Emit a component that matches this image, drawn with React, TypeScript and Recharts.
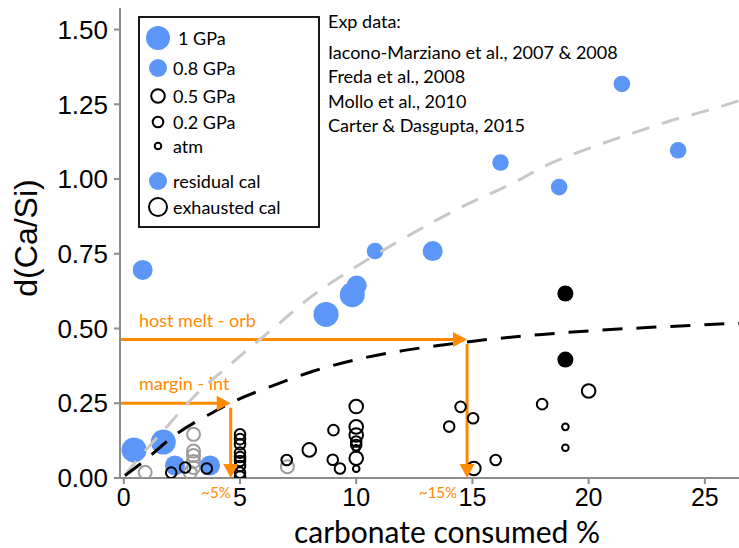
import React from 'react'
import { ReferenceDot, ReferenceLine, Scatter, ScatterChart, XAxis, YAxis } from 'recharts'

interface Pt {
  x: number
  y: number
}

const X_TICKS = [0, 5, 10, 15, 20, 25]
const Y_TICKS = [0, 0.25, 0.5, 0.75, 1, 1.25, 1.5]

// filled blue, three visible marker sizes
const blueLarge: Pt[] = [
  { x: 0.44, y: 0.094 },
  { x: 1.7, y: 0.12 },
  { x: 8.7, y: 0.547 },
  { x: 9.83, y: 0.613 }
]
const blueMid: Pt[] = [
  { x: 0.81, y: 0.696 },
  { x: 2.2, y: 0.042 },
  { x: 3.71, y: 0.042 },
  { x: 10.02, y: 0.644 },
  { x: 13.29, y: 0.759 }
]
const blueSmall: Pt[] = [
  { x: 10.81, y: 0.759 },
  { x: 16.21, y: 1.055 },
  { x: 18.73, y: 0.973 },
  { x: 21.43, y: 1.318 },
  { x: 23.85, y: 1.096 }
]

const blackFilled: Pt[] = [
  { x: 19.0, y: 0.617 },
  { x: 19.0, y: 0.396 }
]

// open circles, 0.5 GPa
const open05: Pt[] = [
  { x: 7.98, y: 0.094 },
  { x: 10.0, y: 0.239 },
  { x: 10.0, y: 0.171 },
  { x: 10.0, y: 0.144 },
  { x: 10.0, y: 0.066 },
  { x: 15.06, y: 0.032 },
  { x: 20.0, y: 0.291 }
]

// open circles, 0.2 GPa
const open02: Pt[] = [
  { x: 2.04, y: 0.018 },
  { x: 2.64, y: 0.035 },
  { x: 3.57, y: 0.032 },
  { x: 5.0, y: 0.146 },
  { x: 5.0, y: 0.13 },
  { x: 5.0, y: 0.113 },
  { x: 5.0, y: 0.085 },
  { x: 5.0, y: 0.07 },
  { x: 5.0, y: 0.057 },
  { x: 5.0, y: 0.04 },
  { x: 5.0, y: 0.018 },
  { x: 5.0, y: 0.005 },
  { x: 7.01, y: 0.06 },
  { x: 9.02, y: 0.16 },
  { x: 8.99, y: 0.061 },
  { x: 9.3, y: 0.032 },
  { x: 10.0, y: 0.122 },
  { x: 10.0, y: 0.11 },
  { x: 14.0, y: 0.172 },
  { x: 14.49, y: 0.238 },
  { x: 15.03, y: 0.2 },
  { x: 16.0, y: 0.06 },
  { x: 18.0, y: 0.247 }
]

// open circles, atm
const openAtm: Pt[] = [
  { x: 10.0, y: 0.099 },
  { x: 10.0, y: 0.031 },
  { x: 19.0, y: 0.171 },
  { x: 19.0, y: 0.101 }
]

// grey open circles
const greyOpen: Pt[] = [
  { x: 0.92, y: 0.019 },
  { x: 3.0, y: 0.146 },
  { x: 3.0, y: 0.09 },
  { x: 3.0, y: 0.075 },
  { x: 3.0, y: 0.055 },
  { x: 3.0, y: 0.035 },
  { x: 2.86, y: 0.018 },
  { x: 7.04, y: 0.038 }
]

const greyCurve: Pt[] = [
  { x: 0.05, y: 0.01 },
  { x: 0.55, y: 0.058 },
  { x: 1.64, y: 0.153 },
  { x: 3.07, y: 0.276 },
  { x: 4.43, y: 0.37 },
  { x: 6.73, y: 0.52 },
  { x: 7.87, y: 0.595 },
  { x: 9.74, y: 0.694 },
  { x: 12.01, y: 0.8 },
  { x: 14.76, y: 0.915 },
  { x: 16.63, y: 0.982 },
  { x: 18.36, y: 1.052 },
  { x: 20.09, y: 1.105 },
  { x: 21.96, y: 1.155 },
  { x: 23.53, y: 1.195 },
  { x: 25.55, y: 1.239 },
  { x: 26.47, y: 1.262 }
]

const blackCurve: Pt[] = [
  { x: 0.05, y: 0.008 },
  { x: 0.78, y: 0.051 },
  { x: 2.21, y: 0.144 },
  { x: 3.85, y: 0.22 },
  { x: 4.65, y: 0.253 },
  { x: 6.42, y: 0.309 },
  { x: 8.14, y: 0.357 },
  { x: 10.29, y: 0.401 },
  { x: 12.01, y: 0.426 },
  { x: 13.73, y: 0.445 },
  { x: 15.88, y: 0.465 },
  { x: 18.0, y: 0.48 },
  { x: 20.0, y: 0.492 },
  { x: 23.0, y: 0.505 },
  { x: 26.47, y: 0.518 }
]

// orange read-off arrows
const arrowLabels = ['host melt - orb', 'margin - int']
const arrowDcasi = [0.463, 0.25]
const arrowConsumed = [14.77, 4.6]
const arrowPct = ['~15%', '~5%']
const pctLabelDx = [-10, 0]

const legendLabels = ['1 GPa', '0.8 GPa', '0.5 GPa', '0.2 GPa', 'atm', 'residual cal', 'exhausted cal']
const sourceLines = [
  'Exp data:',
  'Iacono-Marziano et al., 2007 & 2008',
  'Freda et al., 2008',
  'Mollo et al., 2010',
  'Carter & Dasgupta, 2015'
]

const BLUE = '#5b96f8'
const ORANGE = '#ff8a00'
const AXIS = '#8c8c8c'
const X_MIN = -0.164
const TEXT_FONT = 'Lato, "Open Sans", sans-serif'
const NUM_FONT = '"Liberation Sans", Arial, sans-serif'

const legendMarkers = [
  { r: 12, fill: BLUE, stroke: 'none' },
  { r: 9, fill: BLUE, stroke: 'none' },
  { r: 6.8, fill: 'none', stroke: '#000' },
  { r: 5.3, fill: 'none', stroke: '#000' },
  { r: 3.3, fill: 'none', stroke: '#000' },
  { r: 9, fill: BLUE, stroke: 'none' },
  { r: 9, fill: 'none', stroke: '#000' }
]
const legendRowY = [22, 52, 80, 106, 130, 165, 191]

function dot(r: number, fill: string, stroke: string, width = 2) {
  return (props: any) => {
    if (props.cx == null || props.cy == null) return <g />
    return <circle cx={props.cx} cy={props.cy} r={r} fill={fill} stroke={stroke} strokeWidth={width} />
  }
}

const noDot = () => <g />

function Legend() {
  return (
    <svg width={182} height={212} style={{ position: 'absolute', left: 138, top: 16 }}>
      <rect x={1} y={1} width={180} height={210} fill="#fff" stroke="#000" strokeWidth={1.8} />
      {legendLabels.map((label, i) => {
        const m = legendMarkers[i]
        return (
          <g key={label}>
            <circle cx={20} cy={legendRowY[i]} r={m.r} fill={m.fill} stroke={m.stroke} strokeWidth={2} />
            <text
              x={i === 0 ? 40 : 35}
              y={legendRowY[i]}
              dominantBaseline="central"
              fontFamily={TEXT_FONT}
              fontSize={18}
              fill="#000"
            >
              {label}
            </text>
          </g>
        )
      })}
    </svg>
  )
}

export default function App() {
  return (
    <div style={{ position: 'absolute', left: 0, top: 0, width: 739, height: 548, background: '#fff' }}>
      <ScatterChart width={739} height={548} margin={{ top: 8, right: 0, bottom: 0, left: 0 }}>
        <XAxis
          type="number"
          dataKey="x"
          domain={[X_MIN, 26.47]}
          ticks={X_TICKS}
          allowDataOverflow
          height={70}
          axisLine={{ stroke: AXIS, strokeWidth: 2 }}
          tickLine={{ stroke: AXIS, strokeWidth: 2 }}
          tickSize={6}
          tickMargin={4}
          tick={{ fill: '#000', fontSize: 25, fontFamily: NUM_FONT }}
          label={{
            content: () => (
              <text
                x={447}
                y={531}
                textAnchor="middle"
                dominantBaseline="central"
                fontFamily={TEXT_FONT}
                fontSize={30}
                fill="#000"
              >
                carbonate consumed %
              </text>
            )
          }}
        />
        <YAxis
          type="number"
          dataKey="y"
          domain={[0, 1.572]}
          ticks={Y_TICKS}
          allowDataOverflow
          width={120}
          axisLine={{ stroke: AXIS, strokeWidth: 2 }}
          tickLine={{ stroke: AXIS, strokeWidth: 2 }}
          tickSize={6}
          tickMargin={6}
          tickFormatter={(v: number) => v.toFixed(2)}
          tick={{ fill: '#000', fontSize: 26, fontFamily: NUM_FONT }}
          label={{
            content: () => (
              <text
                x={26}
                y={238}
                transform="rotate(-90 26 238)"
                textAnchor="middle"
                dominantBaseline="central"
                fontFamily={NUM_FONT}
                fontSize={32}
                fill="#000"
              >
                d(Ca/Si)
              </text>
            )
          }}
        />

        <Scatter data={greyOpen} shape={dot(6.5, 'none', '#9c9c9c')} isAnimationActive={false} />
        <Scatter data={blueLarge} shape={dot(12.5, BLUE, 'none', 0)} isAnimationActive={false} />
        <Scatter data={blueMid} shape={dot(10, BLUE, 'none', 0)} isAnimationActive={false} />
        <Scatter data={blueSmall} shape={dot(8.3, BLUE, 'none', 0)} isAnimationActive={false} />
        <Scatter data={blackFilled} shape={dot(8, '#000', 'none', 0)} isAnimationActive={false} />
        <Scatter data={open05} shape={dot(6.8, 'none', '#000')} isAnimationActive={false} />
        <Scatter data={open02} shape={dot(5.3, 'none', '#000')} isAnimationActive={false} />
        <Scatter data={openAtm} shape={dot(3.3, 'none', '#000')} isAnimationActive={false} />

        <Scatter
          data={greyCurve}
          line={{ stroke: '#c8c8c8', strokeWidth: 3, strokeDasharray: '18 13' }}
          lineJointType="monotoneX"
          shape={noDot}
          isAnimationActive={false}
        />
        <Scatter
          data={blackCurve}
          line={{ stroke: '#000', strokeWidth: 3, strokeDasharray: '20 14' }}
          lineJointType="monotoneX"
          shape={noDot}
          isAnimationActive={false}
        />

        {arrowLabels.map((label, i) => (
          <ReferenceLine
            key={`h-${label}`}
            segment={[
              { x: X_MIN, y: arrowDcasi[i] },
              { x: arrowConsumed[i] - 0.3, y: arrowDcasi[i] }
            ]}
            stroke={ORANGE}
            strokeWidth={3}
            label={{
              content: (p: any) => (
                <text
                  x={p.viewBox.x + 19}
                  y={p.viewBox.y - 20}
                  dominantBaseline="central"
                  fontFamily={TEXT_FONT}
                  fontSize={18}
                  fill={ORANGE}
                >
                  {label}
                </text>
              )
            }}
          />
        ))}
        {arrowLabels.map((label, i) => (
          <ReferenceLine
            key={`v-${label}`}
            segment={[
              { x: arrowConsumed[i], y: arrowDcasi[i] - 0.015 },
              { x: arrowConsumed[i], y: 0.02 }
            ]}
            stroke={ORANGE}
            strokeWidth={3}
            label={{
              content: (p: any) => (
                <text
                  x={p.viewBox.x + pctLabelDx[i]}
                  y={p.viewBox.y + p.viewBox.height + 20}
                  textAnchor="end"
                  dominantBaseline="central"
                  fontFamily={TEXT_FONT}
                  fontSize={15}
                  fill={ORANGE}
                >
                  {arrowPct[i]}
                </text>
              )
            }}
          />
        ))}
        {arrowLabels.map((label, i) => (
          <ReferenceDot
            key={`hr-${label}`}
            x={arrowConsumed[i]}
            y={arrowDcasi[i]}
            shape={(p: any) => <path d={`M${p.cx},${p.cy} l-14,-7.5 l0,15 z`} fill={ORANGE} />}
          />
        ))}
        {arrowLabels.map((label, i) => (
          <ReferenceDot
            key={`dn-${label}`}
            x={arrowConsumed[i]}
            y={0}
            shape={(p: any) => <path d={`M${p.cx},${p.cy} l-7.5,-14 l15,0 z`} fill={ORANGE} />}
          />
        ))}
      </ScatterChart>

      <Legend />

      <div
        style={{
          position: 'absolute',
          left: 328,
          top: 9,
          fontFamily: TEXT_FONT,
          fontSize: 18,
          lineHeight: '24.6px',
          color: '#000',
          whiteSpace: 'nowrap'
        }}
      >
        {sourceLines.map((line, i) => (
          <div key={i} style={{ marginBottom: i === 0 ? 6 : 0 }}>
            {line}
          </div>
        ))}
      </div>
    </div>
  )
}
